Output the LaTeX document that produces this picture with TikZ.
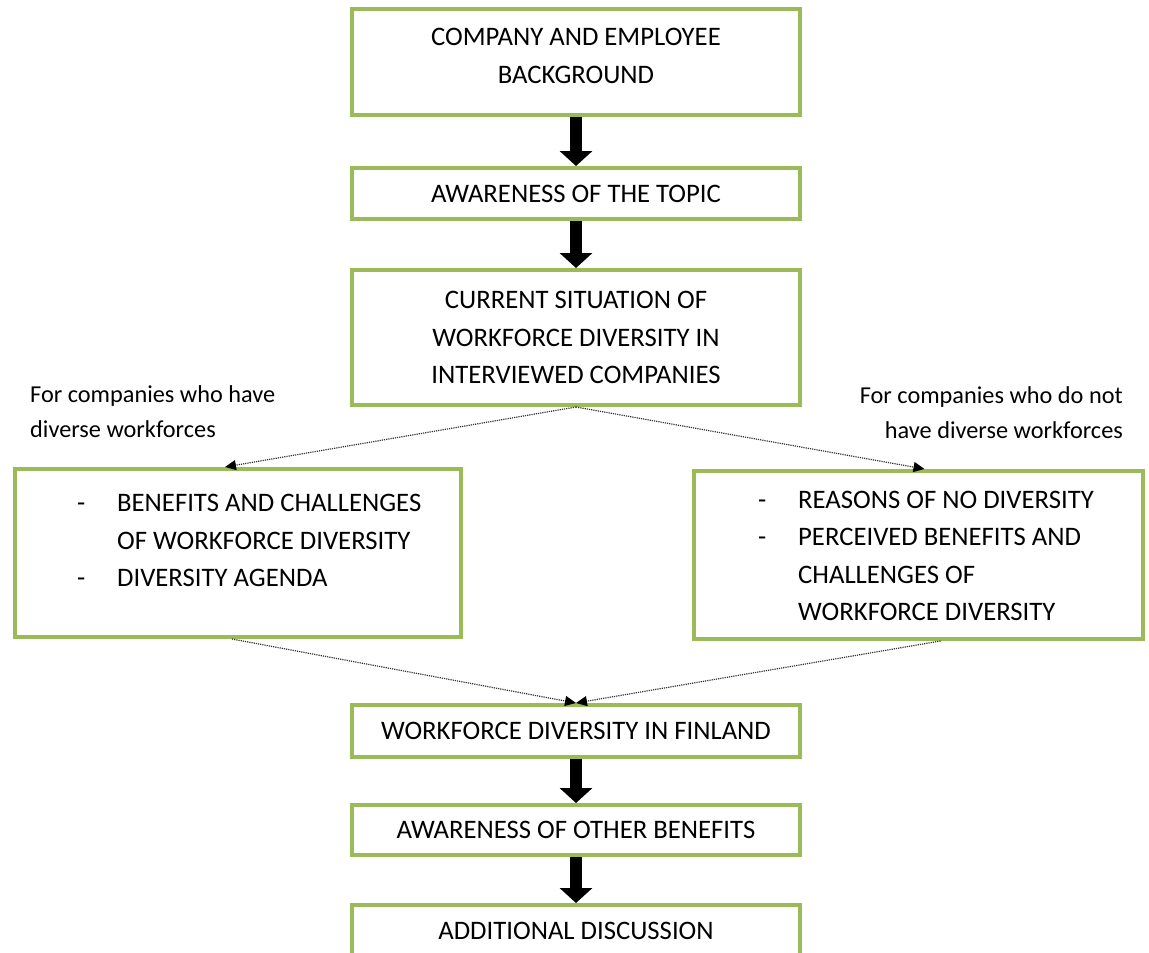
\documentclass[tikz,border=0pt]{standalone}
\usepackage{fontspec}
\setmainfont{Carlito}
\usetikzlibrary{arrows.meta,positioning}
\definecolor{boxgreen}{HTML}{9BBB59}

\tikzset{
  stage/.style={draw=boxgreen, line width=4pt, fill=white, minimum width=448pt,
    align=center, font=\fontsize{26.7}{37.5}\selectfont},
  listtext/.style={align=left, inner sep=0pt, font=\fontsize{26.7}{37.5}\selectfont},
  note/.style={inner sep=0pt, font=\fontsize{24.3}{34.5}\selectfont},
  bigarrow/.style={line width=12pt, -{Triangle[width=32pt,length=15pt]}},
  thinarrow/.style={densely dotted, line width=1.2pt, draw=black!80,
    -{Triangle[width=10pt,length=11pt,color=black]}}
}
\newcommand{\dashitem}{\makebox[40pt][l]{-}}
\newcommand{\noitem}{\hspace*{40pt}}

\begin{document}
\begin{tikzpicture}[x=1pt,y=-1pt]
  \useasboundingbox (0,0) rectangle (1149,953);

  % main column
  \node[stage, minimum height=106pt, text depth=12pt] (background) at (576,62) {COMPANY AND EMPLOYEE\\BACKGROUND};
  \node[stage, minimum height=51pt] (topic) at (576,193.5) {AWARENESS OF THE TOPIC};
  \node[stage, minimum height=135pt] (current) at (576,337.5) {CURRENT SITUATION OF\\WORKFORCE DIVERSITY IN\\INTERVIEWED COMPANIES};

  % the two branches (base = last line)
  \node[stage, minimum width=446pt, minimum height=168pt] (diverse) at (238,553) {};
  \node[listtext, anchor=base west] (diversetext) at ([xshift=64pt,yshift=-119.5pt]diverse.north west)
    {\dashitem BENEFITS AND CHALLENGES\\\noitem OF WORKFORCE DIVERSITY\\\dashitem DIVERSITY AGENDA};
  \node[stage, minimum width=449pt, minimum height=168pt] (nodiverse) at (918.5,555) {};
  \node[listtext, anchor=base west] (nodiversetext) at ([xshift=66pt,yshift=-151.5pt]nodiverse.north west)
    {\dashitem REASONS OF NO DIVERSITY\\\dashitem PERCEIVED BENEFITS AND\\\noitem CHALLENGES OF\\\noitem WORKFORCE DIVERSITY};

  \node[note, anchor=base west, align=left] (havenote) at (30,437) {For companies who have\\diverse workforces};
  \node[note, anchor=base east, align=right] (nothavenote) at (1123,438) {For companies who do not\\have diverse workforces};

  % lower column
  \node[stage, minimum height=52pt] (finland) at (576,731) {WORKFORCE DIVERSITY IN FINLAND};
  \node[stage, minimum height=50pt] (benefits) at (576,830) {AWARENESS OF OTHER BENEFITS};
  \node[stage, minimum height=52pt] (discussion) at (576,931) {ADDITIONAL DISCUSSION};

  \draw[bigarrow] (background) -- (topic);
  \draw[bigarrow] (topic) -- (current);
  \draw[bigarrow] (finland) -- (benefits);
  \draw[bigarrow] (benefits) -- (discussion);

  \draw[thinarrow] (current.south) -- ([xshift=-13pt]diverse.north);
  \draw[thinarrow] (current.south) -- ([xshift=6pt]nodiverse.north);
  \draw[thinarrow] ([xshift=-6pt]diverse.south) -- (finland.north);
  \draw[thinarrow] ([xshift=22pt]nodiverse.south) -- (finland.north);
\end{tikzpicture}
\end{document}
